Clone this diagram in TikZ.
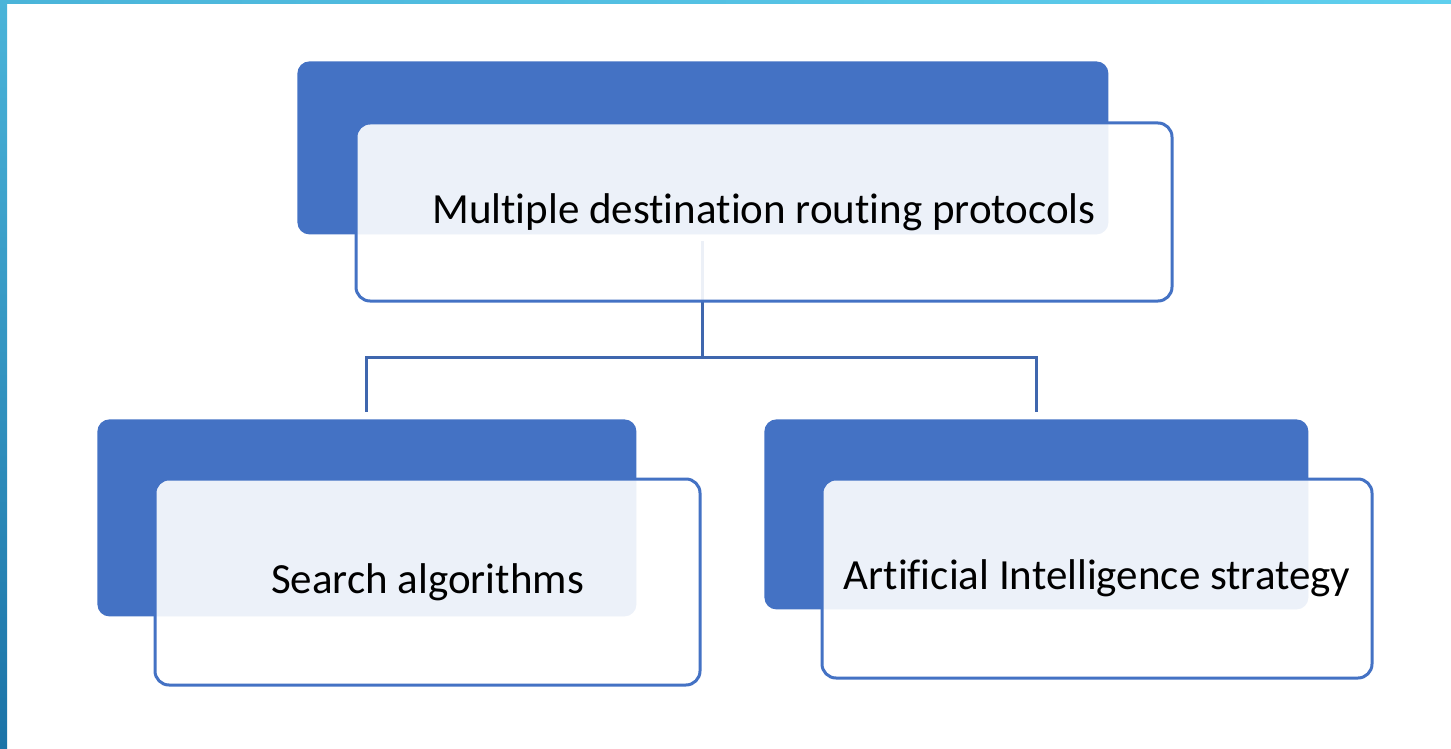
\documentclass[tikz,border=0pt]{standalone}
\usepackage{fontspec}
\setmainfont{Carlito}[Ligatures=NoCommon]
\usetikzlibrary{positioning,calc}
\definecolor{MSblue}{HTML}{4472C4}
\definecolor{MSline}{HTML}{3F67AE}
\definecolor{BARtop}{HTML}{4AB4D9}
\definecolor{BARtopR}{HTML}{5FCFEE}
\definecolor{BARbot}{HTML}{1B73A7}

\begin{document}
\begin{tikzpicture}[x=0.5pt, y=-0.5pt,
  backbox/.style={rectangle, rounded corners=6pt, fill=MSblue, anchor=north west, inner sep=0pt},
  frontbox/.style={rectangle, rounded corners=7pt, draw=MSblue, line width=1.5pt,
    fill=white, fill opacity=0.9, text opacity=1, inner sep=0pt, align=center,
    font=\fontsize{21.5}{26}\selectfont},
  conn/.style={draw=MSline, line width=1.5pt}]

  \useasboundingbox (0,0) rectangle (1451,749);
  % slide edges
  \fill[left color=BARtop, right color=BARtopR] (0,0) rectangle (1451,4);
  \fill[top color=BARtop, bottom color=BARbot] (0,0) rectangle (7,749);

  % centres of the front boxes
  \path (764,212) coordinate (topc)
        (427.5,582) coordinate (leftc)
        (1097,578.5) coordinate (rightc);

  \node[backbox, minimum width=405.5pt, minimum height=86.5pt]
    (topback) at ($(topc)+(-467,-151)$) {};
  \node[backbox, minimum width=269.5pt, minimum height=98.5pt]
    (leftback) at ($(leftc)+(-330.5,-163)$) {};
  \node[backbox, minimum width=272pt, minimum height=95pt]
    (rightback) at ($(rightc)+(-333,-159.5)$) {};

  \coordinate (fork) at (topback.south |- 0,357);
  \draw[conn, shorten <=3pt] (topback.south) -- (fork);
  \draw[conn, shorten >=3.5pt] (fork) -| (leftback.north);
  \draw[conn, shorten >=3.5pt] (fork) -| (rightback.north);

  \node[frontbox, minimum width=408pt, minimum height=89pt] (top) at (topc)
    {Multiple destination routing protocols};
  \node[frontbox, minimum width=272.5pt, minimum height=103pt] (left) at (leftc)
    {Search algorithms};
  \node[frontbox, minimum width=275pt, minimum height=99.5pt] (right) at (rightc)
    {Artificial Intelligence strategy};
\end{tikzpicture}
\end{document}
